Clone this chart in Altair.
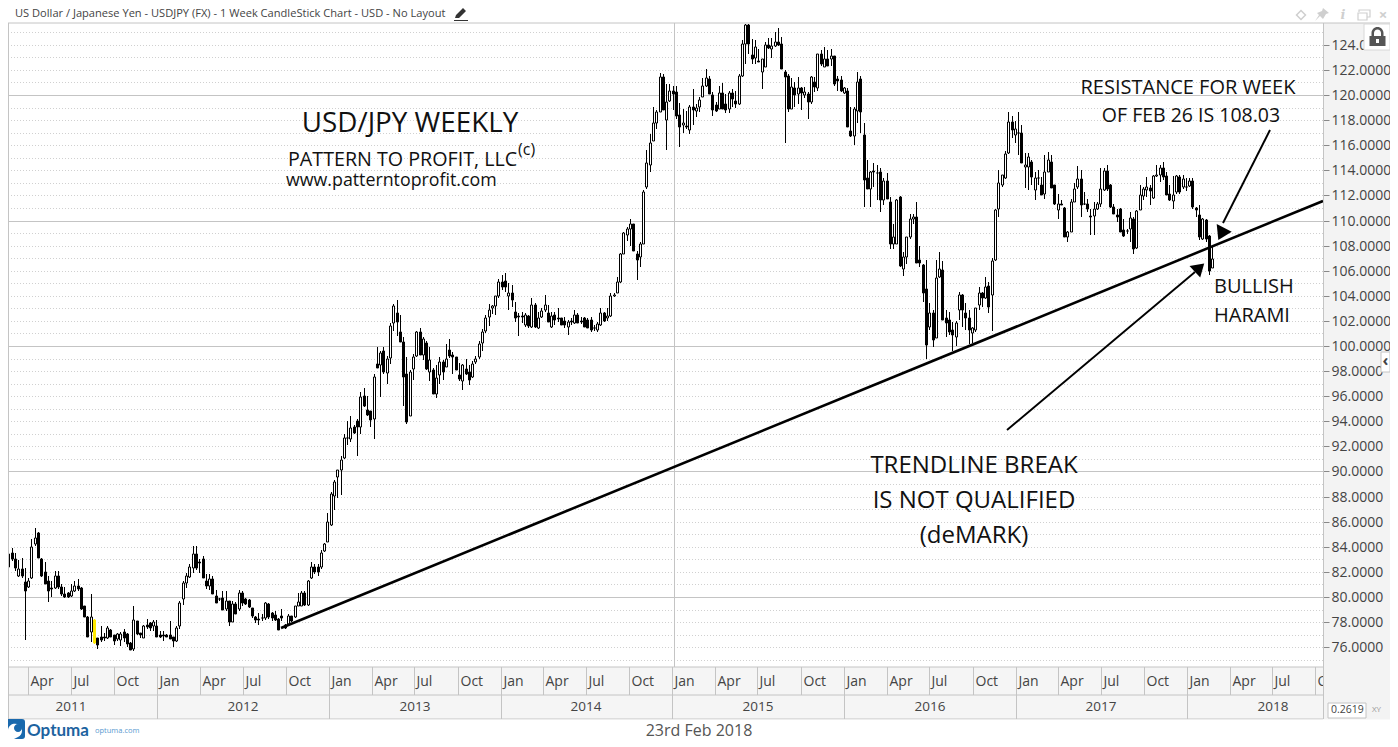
import altair as alt
import pandas as pd

# Weekly candles (open, high, low, close)
c2011 = [
(83.4,83.45,82.2,82.4),(83.5,83.9,82.9,83.0),(83.0,83.5,82.1,82.3),(81.65,82.95,81.6,82.2),(82.2,83.1,81.5,81.7),
(81.2,82.3,76.6,80.5),(80.8,81.5,80.7,81.3),(81.5,84.6,81.4,84.0),(84.2,85.5,84.1,84.7),(85.1,85.2,83.1,83.1),
(83.0,83.1,81.6,81.7),(82.0,82.75,81.0,81.0),(81.3,81.7,79.6,80.5),(80.7,81.3,80.0,80.6),(80.7,82.1,80.6,81.7),
(81.7,82.05,80.6,80.8),(80.8,81.0,80.1,80.2),(80.2,80.8,79.9,80.0),(80.35,80.4,79.95,80.0),(80.05,81.0,80.0,80.5),
(80.45,81.25,80.4,80.85),(80.85,81.45,80.5,80.6),(80.75,80.8,79.0,79.05),(79.3,79.3,78.4,78.4),(78.4,78.5,76.8,76.85),
(77.2,80.2,76.4,78.4),(76.3,78.25,76.25,78.2),(76.7,76.75,75.85,76.2),(76.8,77.65,76.4,76.6),(76.8,77.1,76.5,76.75),
(76.75,77.65,76.65,77.5),(77.4,77.45,76.8,76.85),(76.95,77.0,76.2,76.5),(76.65,77.1,76.5,77.05),(76.6,77.2,76.1,77.05),
(77.2,77.45,76.4,76.7),(77.05,77.1,76.05,76.25),(76.35,76.4,75.75,75.8),(75.85,79.3,75.7,78.15),(78.05,78.05,77.0,77.05),
(77.1,77.15,76.75,77.0),(76.75,77.8,76.7,77.7),(77.8,78.25,77.45,77.6),(77.9,78.0,77.3,77.5),(77.7,78.2,77.25,78.0),
(77.7,78.2,76.8,76.8),
]
c2012 = [
(76.95,77.3,76.7,76.85),(76.95,77.3,76.5,76.9),(76.95,77.05,76.8,76.85),(77.0,78.1,76.65,76.65),(76.8,76.8,76.05,76.5),
(76.5,77.7,76.45,77.55),(77.65,79.7,77.45,79.5),(79.8,81.3,79.4,81.1),(81.15,81.95,80.75,81.7),(81.6,82.6,81.55,82.4),
(82.3,84.1,81.95,83.4),(83.4,84.1,82.15,82.3),(82.75,83.0,81.95,82.7),(83.0,83.3,81.55,81.55),(81.3,81.85,80.65,80.9),
(80.9,81.85,80.55,81.45),(81.45,81.7,80.25,80.25),(80.1,80.55,79.5,79.5),(79.85,79.95,79.7,79.8),(79.95,80.5,78.95,78.95),
(79.05,80.5,78.9,79.65),(79.65,79.7,77.65,78.0),(78.0,79.65,78.0,79.45),(79.45,79.6,78.65,78.65),(79.05,80.55,78.9,80.35),
(80.35,80.5,79.3,79.5),(79.85,79.95,79.4,79.45),(79.75,79.85,79.1,79.2),(79.1,79.1,78.3,78.45),(78.4,78.5,77.9,78.2),
(78.25,78.7,77.8,78.2),(78.35,78.65,78.1,78.3),(78.3,79.6,78.15,79.5),(79.45,79.5,78.25,78.4),(78.7,78.8,78.1,78.3),
(78.6,78.9,78.1,78.15),(78.25,78.3,77.35,77.4),(78.5,79.05,78.05,78.3),(77.8,77.85,77.45,77.5),(77.85,78.65,77.7,78.5),
(78.45,78.5,78.0,78.1),(78.4,79.3,78.35,79.25),(79.25,80.35,79.25,79.6),(79.3,80.45,79.3,80.35),(80.35,80.5,79.3,79.4),
(79.4,81.35,79.3,81.3),(81.5,82.75,81.45,82.35),(82.35,82.6,81.85,82.0),(82.4,82.6,81.7,82.0),(82.35,83.75,82.2,83.5),
(83.65,84.3,83.55,84.2),(84.4,86.7,84.35,85.95),
]
c2013 = [
(85.75,88.4,85.65,88.2),(88.05,89.3,86.95,89.2),(89.55,90.15,87.85,90.1),(90.15,91.2,88.1,90.9),(91.05,92.95,91.0,92.7),
(92.7,94.05,92.1,92.65),(92.55,94.45,92.35,93.5),(93.55,93.7,93.0,93.05),(94.0,94.2,91.25,93.55),(93.55,96.3,93.0,95.9),
(96.05,96.65,95.1,95.2),(94.9,96.05,94.45,94.5),(94.8,94.85,93.55,94.1),(94.2,97.8,92.6,97.5),(98.55,99.9,98.25,98.25),
(98.5,99.6,95.9,99.45),(99.6,99.9,97.8,97.9),(97.85,99.2,97.0,98.95),(99.05,101.85,98.6,101.6),(101.85,103.35,101.2,103.2),
(102.65,103.65,100.8,101.9),(101.1,102.5,100.3,100.3),(100.3,100.7,95.25,97.5),(97.8,99.15,93.8,93.95),(94.45,98.1,94.45,97.9),
(98.15,99.35,97.3,99.15),(99.2,101.2,99.15,101.15),(101.15,101.4,99.25,99.3),(99.25,100.75,98.9,100.55),(100.25,100.4,98.1,98.2),
(97.9,99.9,97.25,98.9),(98.05,98.25,96.15,96.2),(96.15,98.5,95.85,97.45),(97.7,99.1,96.95,98.7),(98.7,98.85,97.3,97.9),
(98.35,100.15,98.35,99.0),(99.7,100.55,99.05,99.2),(99.3,99.5,97.8,99.15),(99.15,99.15,98.1,98.1),(97.7,98.65,97.2,97.4),
(97.2,98.6,96.5,98.5),(98.15,98.95,97.65,97.75),(97.9,98.45,96.9,97.3),(97.5,98.8,97.45,98.55),(98.7,99.2,98.55,99.0),
(99.1,100.4,98.95,100.15),(100.2,101.35,99.6,101.15),(101.2,102.5,101.05,102.25),(102.3,103.35,101.6,102.85),(103.0,103.3,102.55,103.2),
(103.2,104.0,102.5,104.0),
]
c2014 = [
(104.0,105.3,103.8,105.1),(105.1,105.65,104.45,104.7),(105.2,105.8,104.3,104.7),(103.95,105.0,102.85,104.25),(104.2,104.85,103.1,103.7),
(102.7,103.5,101.9,102.2),(102.4,102.6,100.8,102.3),(102.4,102.7,101.8,102.3),(101.65,102.6,101.5,102.5),(102.4,102.45,101.4,101.6),
(101.5,103.8,101.4,103.25),(103.3,103.4,101.4,101.55),(101.4,102.7,101.35,102.2),(102.3,103.0,102.2,102.8),(102.85,104.1,102.7,103.3),
(102.6,103.25,101.9,101.95),(101.5,102.7,101.4,102.4),(102.45,102.7,101.65,102.05),(102.25,103.0,101.9,102.15),(102.2,102.2,101.65,101.7),
(102.0,102.3,101.4,101.65),(101.55,102.05,100.85,101.9),(102.0,102.2,101.65,101.9),(101.85,102.85,101.75,102.45),(102.45,102.6,101.8,101.85),
(102.0,102.3,101.75,101.9),(102.2,102.3,101.5,101.55),(102.1,102.2,101.4,101.45),(102.1,102.3,101.15,101.3),(101.4,101.7,101.2,101.45),
(101.3,101.9,101.15,101.75),(101.65,103.05,101.6,102.6),(102.6,102.7,101.9,102.0),(102.2,103.0,102.0,102.4),(102.4,104.2,102.35,104.0),
(104.0,104.2,103.9,104.1),(104.2,105.5,104.2,105.1),(105.1,107.4,105.05,107.3),(107.3,109.1,107.3,109.0),(108.85,109.5,108.4,109.3),
(109.35,110.1,108.0,109.75),(109.75,109.75,107.6,107.6),(107.35,107.55,105.25,106.85),(107.1,108.3,106.3,108.15),(108.15,112.4,108.15,112.3),
(112.7,115.6,112.55,114.55),(114.4,116.9,113.9,116.2),(116.35,119.05,116.35,117.8),(117.75,118.8,117.3,118.65),(118.65,121.75,118.65,121.45),
(121.45,121.7,118.8,118.8),(118.0,120.9,115.6,119.45),(119.5,120.85,119.45,120.3),
]
c2015 = [
(120.3,120.75,118.8,120.1),(120.25,120.75,118.1,118.3),(118.4,119.35,115.85,117.45),(117.6,118.85,117.0,117.8),(117.5,118.7,117.3,117.45),
(117.2,119.2,116.9,119.05),(119.05,120.45,117.6,118.8),(118.7,119.3,118.25,119.0),(119.05,119.85,118.65,119.6),(119.85,121.35,119.85,120.75),
(120.75,122.05,120.65,121.35),(121.3,121.55,120.05,120.1),(120.0,120.25,118.35,118.8),(119.2,119.45,118.65,118.7),(118.85,120.75,118.85,120.2),
(120.15,120.95,118.85,118.9),(119.3,120.1,118.6,118.8),(118.85,120.35,118.6,120.2),(120.2,120.45,119.05,119.65),(119.55,120.35,119.0,119.3),
(119.3,121.7,119.2,121.55),(121.5,124.35,121.45,124.1),(124.1,125.7,122.5,125.6),(125.6,125.7,123.3,124.1),(123.2,124.45,122.5,122.85),
(122.95,124.35,122.5,123.8),(122.75,123.7,122.6,122.65),(121.85,122.9,120.5,122.85),(122.25,124.2,122.25,124.0),(124.0,124.55,123.7,123.75),
(123.7,124.55,122.95,123.9),(123.9,125.05,123.85,124.25),(124.2,125.35,123.9,123.95),(124.1,124.6,122.1,122.1),(121.85,122.0,116.2,121.45),
(121.55,121.65,118.65,118.9),(118.9,121.35,118.85,120.65),(120.55,121.05,119.05,120.0),(120.1,121.45,119.3,120.6),(120.55,120.65,118.8,120.2),
(120.0,120.65,119.75,120.25),(120.1,120.25,118.1,119.45),(119.45,121.5,119.3,121.45),(121.05,121.45,120.25,120.65),(120.6,123.3,120.35,123.25),
(123.25,123.55,122.35,122.5),(122.25,123.8,122.25,122.9),(122.85,123.55,122.3,122.35),(122.85,123.7,122.35,123.15),(123.15,123.15,120.75,120.9),
(121.25,121.55,120.35,121.15),(121.2,121.55,120.25,120.35),(120.2,120.65,120.05,120.6),
]
c2016 = [
(120.3,120.55,117.45,117.45),(117.1,119.05,116.65,116.75),(116.75,119.05,116.0,118.9),(118.7,121.8,117.8,121.05),(121.3,121.5,117.0,118.65),
(116.8,117.75,111.05,113.2),(113.35,114.85,112.55,112.55),(112.55,113.95,111.1,113.9),(113.95,114.55,112.7,113.85),(113.8,114.4,111.6,113.75),
(113.9,114.15,110.7,111.6),(111.6,113.35,111.2,113.15),(113.15,113.8,111.7,111.75),(111.5,111.85,107.75,108.15),(108.1,109.75,107.75,108.7),
(108.15,111.7,108.15,111.6),(111.85,111.95,106.3,106.35),(106.15,107.5,105.55,107.1),(107.1,108.7,106.55,108.65),(108.7,110.55,108.55,110.15),
(110.15,110.55,109.75,110.3),(110.3,111.45,106.6,106.65),(106.85,107.95,106.3,106.6),(106.45,106.5,103.5,104.2),(104.55,106.85,99.0,100.05),
(101.5,103.4,101.25,102.6),(102.6,102.85,99.95,100.5),(100.6,106.85,100.6,105.45),(105.5,107.5,105.45,106.1),(106.05,106.8,102.05,102.05),
(102.2,102.85,100.7,101.8),(102.05,102.7,100.85,101.1),(101.25,101.9,99.6,100.85),(100.7,102.0,100.0,101.8),(102.85,104.3,102.05,104.05),
(104.05,104.15,101.5,102.85),(102.6,103.4,101.25,102.2),(102.2,102.85,100.15,101.25),(101.0,101.5,100.2,101.4),(101.25,103.0,101.1,103.0),
(103.25,104.7,102.85,104.25),(104.25,104.3,103.1,103.85),(103.85,105.5,103.75,104.7),(104.8,105.1,102.6,103.1),(104.05,107.0,101.2,106.75),
(106.85,110.95,106.75,110.8),(110.95,114.0,110.3,113.0),(112.85,113.6,112.7,113.6),(113.35,115.5,113.3,115.3),(115.35,118.65,115.3,117.85),
(117.85,118.3,116.55,117.25),(116.8,117.95,116.15,117.3),
]
c2017 = [
(117.0,118.65,115.2,116.95),(116.95,117.6,114.55,114.6),(114.3,115.35,112.6,114.45),(114.3,115.35,112.4,115.1),(114.65,114.8,112.8,113.5),
(112.4,113.9,111.6,113.35),(113.4,114.0,112.8,113.35),(112.8,113.5,112.0,112.05),(112.15,115.2,111.75,113.9),(113.9,115.45,113.9,114.8),
(114.65,115.2,112.6,112.6),(112.85,112.85,111.2,111.3),(110.8,112.15,110.1,111.35),(111.3,111.6,111.2,111.25),(111.0,111.1,108.7,108.7),
(108.65,109.15,108.25,109.1),(109.05,111.75,109.05,111.45),(111.5,112.95,111.5,112.5),(112.7,114.35,112.55,113.3),(113.3,114.0,110.3,111.2),
(111.35,112.3,111.2,111.3),(111.35,111.75,110.7,110.95),(110.35,110.95,108.85,110.25),(110.35,111.5,108.85,110.9),(110.9,111.5,110.8,111.3),
(111.3,114.15,111.1,112.5),(112.4,114.2,112.35,113.95),(113.95,114.45,112.35,112.5),(112.8,112.9,111.0,111.1),(111.1,111.35,110.55,110.55),
(110.4,110.95,109.9,110.3),(110.95,111.0,109.05,109.1),(109.25,110.15,108.7,108.8),(109.2,109.3,108.9,109.15),(109.35,110.65,108.3,110.2),
(110.15,110.3,107.35,107.75),(107.8,110.8,107.75,110.75),(110.8,112.8,110.8,112.05),(111.95,112.7,111.6,112.55),(112.4,113.5,111.9,112.7),
(112.6,112.8,111.2,112.35),(111.8,113.6,111.75,113.55),(113.55,114.45,113.5,113.65),(113.6,114.45,113.1,114.2),(114.15,114.65,113.2,113.5),
(113.55,113.9,112.0,112.0),(112.15,112.8,111.55,111.6),(111.55,113.55,110.95,112.05),(112.25,113.6,112.15,113.55),(113.5,113.6,112.15,112.3),
(112.65,113.6,112.55,113.3),(112.7,113.35,112.35,112.65),
]
c2018 = [
(112.75,113.4,112.7,113.15),(113.15,113.4,110.95,111.1),(111.0,111.1,110.3,110.8),(110.4,111.2,108.45,108.7),(108.55,110.2,108.45,110.1),
(110.05,110.15,108.3,108.5),(108.8,108.85,105.65,106.0),(106.2,107.9,106.2,106.9),
]

all_candles = c2011 + c2012 + c2013 + c2014 + c2015 + c2016 + c2017 + c2018
flagged_week = 26            # the single yellow candle
last_week = "2018-02-23"

y_ticks = list(range(76, 126, 2))
minor_levels = list(range(75, 126))
major_levels = [80, 90, 100, 110, 120]
quarters = [f"{y}-{m:02d}-01" for y in range(2011, 2019) for m in (1, 4, 7, 10)]
quarter_names = ["Jan", "Apr", "Jul", "Oct"] * 8
years = list(range(2011, 2019))

trend_line = [("2012-09-21", 77.53), ("2018-10-17", 111.58)]
arrow_a = [("2018-06-26", 117.2), ("2018-03-18", 109.8)]
arrow_b = [("2016-12-14", 93.3), ("2018-01-18", 105.9)]
arrow_a_head = ("2018-03-16", 109.08)
arrow_b_head = ("2018-01-24", 106.15)

dates = pd.date_range(end=last_week, periods=len(all_candles), freq="7D")
candles = pd.DataFrame(all_candles, columns=["o", "h", "l", "c"])
candles["h"] = candles[["o", "h", "c"]].max(axis=1)
candles["l"] = candles[["o", "l", "c"]].min(axis=1)
candles["d"] = dates.strftime("%Y-%m-%d")
candles["kind"] = ["up" if c >= o else "down" for o, c in zip(candles.o, candles.c)]
candles.loc[flagged_week, "kind"] = "flag"

FONT = "Open Sans"
GRID = "#d0d0d0"
LINE = "#c4c4c4"
TXT = "#444444"
xs = alt.Scale(domain=["2011-02-17", "2018-10-17"], round=True, nice=False, padding=0)
ys = alt.Scale(domain=[74.42, 125.74], round=True, nice=False, zero=False, padding=0)
y_axis = alt.Axis(
    orient="right", values=y_ticks, format=".4f", grid=False, domain=False, zindex=0,
    labelFont=FONT, labelFontSize=14, labelColor=TXT, labelPadding=2, labelOverlap=False,
    labelBound=False, tickColor="#888888", tickSize=6, title=None)
X = lambda f: alt.X(f, type="temporal", scale=xs, axis=None, title=None)
Y = lambda f: alt.Y(f, type="quantitative", scale=ys, axis=y_axis, title=None)
px = lambda v: alt.value(v - 8)
py = lambda v: alt.value(v - 23)
one = alt.Data(values=[{"a": 1}])
kinds = dict(domain=["up", "down", "flag"])
fill_s = alt.Scale(range=["#ffffff", "#000000", "#ffe800"], **kinds)
stroke_s = alt.Scale(range=["#000000", "#000000", "#ffe800"], **kinds)


def text(s, x, y, size, align="left", color="#111111", weight="normal", style="normal", font=FONT):
    return alt.Chart(one).mark_text(
        text=s, font=font, fontSize=size, align=align, baseline="middle",
        color=color, fontWeight=weight, fontStyle=style
    ).encode(x=px(x), y=py(y))


def box(x1, x2, y1, y2, fill, stroke=None):
    opts = {"fill": fill}
    if stroke:
        opts.update(stroke=stroke, strokeWidth=1)
    return alt.Chart(one).mark_rect(**opts).encode(x=px(x1), x2=px(x2), y=py(y1), y2=py(y2))


def icon(path, x, y, color, filled=True, width=1.2):
    m = alt.Chart(one).mark_point(shape=path, size=4, filled=filled, opacity=1,
                                  **({"fill": color, "stroke": color, "strokeWidth": 0} if filled
                                     else {"stroke": color, "strokeWidth": width}))
    return m.encode(x=px(x), y=py(y))


def segment(points, width):
    df = pd.DataFrame([{"d": points[0][0], "p": points[0][1], "d2": points[1][0], "p2": points[1][1]}])
    return alt.Chart(df).mark_rule(color="#000000", strokeWidth=width).encode(
        x=X("d"), x2="d2:T", y=Y("p"), y2="p2:Q")


layers = []

# price grid
layers.append(alt.Chart(pd.DataFrame({"p": minor_levels})).mark_rule(
    color=GRID, strokeWidth=1, strokeDash=[1, 2], yOffset=0.5).encode(y=Y("p")))
layers.append(alt.Chart(pd.DataFrame({"p": major_levels})).mark_rule(
    color=LINE, strokeWidth=1, yOffset=0.5).encode(y=Y("p")))
layers.append(alt.Chart(pd.DataFrame({"d": ["2015-01-05"]})).mark_rule(
    color=LINE, strokeWidth=1, xOffset=0.5).encode(x=X("d")))

# candles
base = alt.Chart(candles)
layers.append(base.mark_rule(strokeWidth=1, xOffset=0.5).encode(
    x=X("d"), y=Y("h"), y2="l:Q",
    stroke=alt.Stroke("kind:N", scale=stroke_s, legend=None)))
layers.append(base.mark_bar(size=2, strokeWidth=1, xOffset=0.5).encode(
    x=X("d"), y=Y("o"), y2="c:Q",
    fill=alt.Fill("kind:N", scale=fill_s, legend=None),
    stroke=alt.Stroke("kind:N", scale=stroke_s, legend=None)))

# trend line and arrows
layers.append(segment(trend_line, 2.6))
layers.append(segment(arrow_a, 1.9))
layers.append(segment(arrow_b, 1.9))
for head, path in [(arrow_a_head, "M-5.3,-8 L9.7,-0.3 L-3.7,8 Z"), (arrow_b_head, "M-8.5,-3.1 L6.2,-5.5 L2.2,8.5 Z")]:
    layers.append(alt.Chart(pd.DataFrame([{"d": head[0], "p": head[1]}])).mark_point(
        shape=path, size=4, filled=True, opacity=1, fill="#000000", strokeWidth=0).encode(x=X("d"), y=Y("p")))

# annotations
layers += [
    text("USD/JPY WEEKLY", 410, 123.5, 27.8, "center"),
    text("PATTERN TO PROFIT, LLC", 288, 160, 19.7),
    text("(c)", 518, 150, 16),
    text("www.patterntoprofit.com", 286, 181, 17.8),
    text("RESISTANCE FOR WEEK", 1188, 88, 20, "center"),
    text("OF FEB 26 IS 108.03", 1191, 116, 19.5, "center"),
    text("BULLISH", 1214, 287, 20),
    text("HARAMI", 1214, 316, 20),
    text("TRENDLINE BREAK", 974, 466, 24, "center"),
    text("IS NOT QUALIFIED", 974, 501, 24, "center"),
    text("(deMARK)", 974, 536, 24, "center"),
]

# time bands
layers.append(box(8, 1323, 667, 719, "#f5f5f5"))
q = pd.DataFrame({"d": quarters, "n": quarter_names})
layers.append(alt.Chart(q).mark_rule(color=LINE, strokeWidth=1, xOffset=0.5).encode(
    x=X("d"), y=py(667), y2=py(695)))
y_df = pd.DataFrame({"d": [f"{y}-01-01" for y in years], "m": [f"{y}-07-02" for y in years],
                     "n": [str(y) for y in years]})
layers.append(alt.Chart(y_df).mark_rule(color=LINE, strokeWidth=1, xOffset=0.5).encode(
    x=X("d"), y=py(695), y2=py(719)))
layers.append(alt.Chart(q).mark_text(font=FONT, fontSize=14, align="left", baseline="middle",
                                     color=TXT, dx=2.5).encode(x=X("d"), y=py(682), text="n:N"))
layers.append(alt.Chart(y_df).mark_text(font=FONT, fontSize=13.5, align="center", baseline="middle",
                                        color=TXT).encode(x=X("m"), y=py(707), text="n:N"))
for yy in (667, 695, 719):
    layers.append(alt.Chart(one).mark_rule(color=LINE, strokeWidth=1).encode(x=px(8), x2=px(1323), y=py(yy)))

# left edge
layers.append(alt.Chart(one).mark_rule(color=LINE, strokeWidth=1).encode(x=px(8.5), y=py(23), y2=py(719)))

# right panel parts under the plot
layers.append(box(1323.5, 1390, 667, 719, "#f3f3f3"))
layers.append(alt.Chart(one).mark_rule(color=LINE, strokeWidth=1).encode(x=px(1323.5), y=py(23), y2=py(719)))
layers.append(box(1328, 1366, 703, 718, "#ffffff", LINE))
layers.append(text("0.2619", 1331, 710, 10.5, color=TXT))
layers.append(text("XY", 1372, 710, 8, color="#999999"))
layers.append(box(1381, 1390, 352, 372, "#ffffff", LINE))
layers.append(text("‹", 1385.5, 361, 16, "center", "#444444", "bold"))

# header and footer strips
layers.append(box(0, 1390, 8, 23, "#ffffff"))
layers.append(box(0, 1390, 719.5, 739, "#ffffff"))
layers.append(alt.Chart(one).mark_rule(color=LINE, strokeWidth=1).encode(x=px(8), x2=px(1390), y=py(23)))
layers.append(text("US Dollar / Japanese Yen - USDJPY (FX) - 1 Week CandleStick Chart - USD - No Layout",
                   15, 14, 11.1, color=TXT))
layers.append(icon("M-6,4 L-5,1 L2,-6 L5,-3 L-2,4 Z M-7,6 L7,6 L7,7 L-7,7 Z", 461, 14, "#333333"))
layers.append(alt.Chart(one).mark_point(shape="diamond", size=80, filled=False, stroke="#cfcfcf",
                                        strokeWidth=1.5, opacity=1).encode(x=px(1301), y=py(15)))
layers.append(icon("M1,-7 L7,-2 L4,-1 L1,4 L-2,1 L-7,6 L-3,0 L-5,-2 L0,-4 Z", 1322, 15, "#cfcfcf"))
layers.append(text("i", 1343, 15, 13, "center", "#cfcfcf", "bold", "italic", "DejaVu Serif"))
layers.append(icon("M-5,-3 L-5,-5 L6,-5 L6,2 L3,2 M-6,-2 L3,-2 L3,5 L-6,5 Z", 1364, 15, "#cfcfcf", False))
layers.append(text("×", 1383, 15, 15, "center", "#cfcfcf", "bold"))

# lock button
layers.append(box(1364, 1390, 24, 50, "#ffffff", "#d8d8d8"))
layers.append(icon("M-8,-1 L8,-1 L8,9 L-8,9 Z M-6,-1 L-6,-4 A6,6 0 0 1 6,-4 L6,-1 L3.5,-1 L3.5,-4 A3.5,3.5 0 0 0 -3.5,-4 L-3.5,-1 Z",
                   1377.5, 37, "#555555"))
layers.append(icon("M-1.5,2 L1.5,2 L1.5,6 L-1.5,6 Z", 1377.5, 37, "#ffffff"))

# footer brand
layers.append(icon("M-10,-7 Q-10,-10 -7,-10 L7,-10 Q10,-10 10,-7 L10,7 Q10,10 7,10 L-7,10 Q-10,10 -10,7 Z", 15, 729, "#1a69ad"))
layers.append(icon("M-8,2 A7,7 0 1 1 2,8 L-2,10 L-8,10 Z", 16, 729, "#ffffff"))
layers.append(icon("M-4,0 A4,4 0 1 1 4,0 A4,4 0 1 1 -4,0 Z", 18, 728, "#1a69ad"))
layers.append(text("Optuma", 27, 731, 17, color="#1d639f", font="Lato", weight="bold"))
layers.append(text("optuma.com", 95, 731, 7.5, color="#5a9ad0"))
layers.append(text("23rd Feb 2018", 699, 731, 16, "center", "#555555"))

chart = alt.layer(*layers).properties(
    width=1315, height=644, background="#f3f3f3",
    padding={"left": 0, "top": 15, "right": 67, "bottom": 72},
    autosize=alt.AutoSizeParams(type="none"),
).configure_view(fill="#ffffff", stroke=None)

chart.save("out.html", embed_options={"renderer": "svg", "actions": False})
